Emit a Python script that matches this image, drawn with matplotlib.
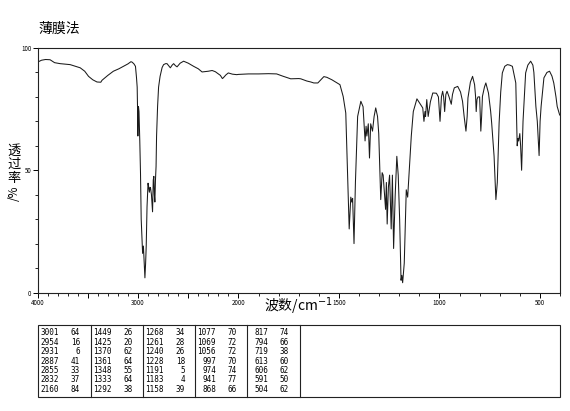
import numpy as np
import matplotlib
matplotlib.use('Agg')
import matplotlib.pyplot as plt
from matplotlib.patches import Rectangle
from matplotlib.ticker import FixedLocator, FuncFormatter

plt.rcParams['font.family'] = ['Noto Sans CJK SC', 'DejaVu Sans']

# spectrum (cm-1, %T)
wavenumber = [
    4000, 3960, 3920, 3875, 3830, 3775, 3720, 3675, 3620, 3575, 3530, 3492,
    3450, 3408, 3370, 3358, 3300, 3245, 3190, 3145, 3100, 3070, 3058, 3040,
    3025, 3015, 3008, 3003, 3001, 2999, 2995, 2990, 2982, 2975, 2968, 2962,
    2954, 2946, 2940, 2931, 2924, 2918, 2910, 2900, 2895, 2887, 2880, 2875,
    2866, 2855, 2848, 2842, 2837, 2832, 2826, 2820, 2815, 2805, 2795, 2780,
    2760, 2745, 2725, 2711, 2695, 2678, 2660, 2645, 2628, 2611, 2580, 2546,
    2500, 2446, 2400, 2362, 2300, 2262, 2230, 2213, 2180, 2160, 2151, 2125,
    2101, 2060, 2017,
    2000, 1950, 1900, 1850, 1810, 1780, 1740, 1700, 1690, 1660, 1640, 1625,
    1605, 1590, 1575, 1560, 1535, 1515, 1495, 1479, 1466, 1457, 1449, 1441,
    1436, 1432, 1425, 1418, 1407, 1391, 1380, 1370, 1365, 1361, 1354, 1348,
    1342, 1333, 1325, 1317, 1308, 1302, 1292, 1285, 1280, 1275, 1268, 1264,
    1260, 1254, 1248, 1240, 1234, 1228, 1220, 1212, 1205, 1198, 1191, 1187,
    1183, 1175, 1165, 1158, 1150, 1140, 1130, 1112, 1095, 1083, 1077, 1072,
    1069, 1063, 1056, 1045, 1033, 1015, 1005, 997, 990, 984, 979, 974,
    968, 962, 952, 941, 935, 926, 909, 895, 885, 877, 868, 862,
    858, 846, 835, 825, 820, 817, 813, 808, 800, 794, 790, 786,
    776, 769, 756, 745, 740, 728, 719, 712, 703, 695, 687, 675,
    662, 650, 637, 628, 620, 613, 609, 606, 600, 596, 591, 584,
    571, 560, 546, 535, 530, 520, 513, 504, 499, 494, 480, 465,
    452, 440, 431, 420, 414, 402, 400,
]
transmittance = [
    94.2, 95.0, 95.3, 95.2, 94.0, 93.6, 93.4, 93.2, 92.5, 91.9, 90.5, 88.4,
    87.0, 86.1, 86.0, 86.8, 88.8, 90.5, 91.5, 92.5, 93.5, 94.4, 94.2, 93.5,
    92.5, 88.0, 84.0, 72.0, 64.0, 70.0, 76.0, 74.0, 62.0, 49.0, 30.0, 24.0,
    16.0, 19.0, 14.0, 6.0, 12.0, 19.0, 35.0, 44.7, 43.5, 41.0, 43.0, 42.7,
    40.0, 33.0, 46.0, 47.5, 40.0, 37.0, 46.0, 51.6, 64.0, 76.0, 84.0, 88.4,
    92.0, 93.2, 93.6, 93.6, 92.8, 91.9, 93.0, 93.6, 92.8, 92.3, 93.8, 94.6,
    93.8, 92.5, 91.5, 90.2, 90.5, 90.8, 90.3, 89.8, 88.8, 87.5, 87.8, 89.0,
    89.8, 89.3, 89.1,
    89.2, 89.4, 89.4, 89.5, 89.4, 88.5, 87.4, 87.5, 87.4, 86.5, 86.1, 85.7,
    85.7, 87.0, 88.3, 88.0, 87.0, 86.0, 85.0, 80.2, 73.4, 49.0, 26.0, 39.0,
    37.0, 38.5, 20.0, 45.0, 72.0, 78.2, 76.0, 62.0, 68.0, 64.0, 69.0, 55.0,
    69.0, 66.0, 72.0, 75.5, 72.0, 65.0, 38.0, 49.0, 48.0, 42.0, 34.0, 45.0,
    28.0, 43.0, 48.0, 26.0, 48.0, 18.0, 40.0, 55.7, 48.0, 30.0, 5.0, 7.0,
    4.0, 12.0, 42.0, 39.0, 50.0, 64.0, 74.0, 79.2, 77.0, 75.5, 70.0, 74.0,
    72.0, 78.9, 72.0, 78.0, 81.6, 81.5, 80.0, 70.0, 80.0, 82.3, 80.0, 74.0,
    81.0, 82.3, 80.0, 77.0, 81.0, 83.7, 84.3, 82.0, 78.2, 72.0, 66.0, 72.0,
    79.6, 86.0, 88.4, 85.0, 80.0, 74.0, 79.0, 80.0, 80.0, 66.0, 72.0, 80.2,
    84.0, 85.7, 81.6, 74.0, 69.3, 55.7, 38.0, 45.0, 69.3, 82.0, 89.8, 92.5,
    93.2, 93.0, 92.5, 89.0, 85.7, 60.0, 63.0, 62.0, 65.0, 60.0, 50.0, 70.0,
    89.8, 93.0, 94.6, 93.0, 90.0, 76.1, 70.0, 56.0, 70.0, 76.1, 87.8, 90.0,
    90.5, 88.5, 85.7, 80.0, 76.1, 72.7, 72.5,
]

# peak table (wavenumber, %T), five columns
peak_wn = [
    [3001, 2954, 2931, 2887, 2855, 2832, 2160],
    [1449, 1425, 1370, 1361, 1348, 1333, 1292],
    [1268, 1261, 1240, 1228, 1191, 1183, 1158],
    [1077, 1069, 1056, 997, 974, 941, 868],
    [817, 794, 719, 613, 606, 591, 504],
]
peak_t = [
    [64, 16, 6, 41, 33, 37, 84],
    [26, 20, 62, 64, 55, 64, 38],
    [34, 28, 26, 18, 5, 4, 39],
    [70, 72, 72, 70, 74, 77, 66],
    [74, 66, 38, 60, 62, 50, 62],
]

x_labels = [4000, 3000, 2000, 1500, 1000, 500]


# wavenumber axis: 2000 cm-1 and below is drawn at twice the scale
def fwd(x):
    x = np.asarray(x, dtype=float)
    return np.where(x >= 2000, x, 2 * x - 2000)


def inv(u):
    u = np.asarray(u, dtype=float)
    return np.where(u >= 2000, u, (u + 2000) / 2)


W, H = 570, 411
fig = plt.figure(figsize=(W / 100, H / 100), dpi=100)

ax = fig.add_axes([37.5 / W, 1 - 292.5 / H, 522.5 / W, 244.5 / H])
ax.set_xscale('function', functions=(fwd, inv))
ax.plot(wavenumber, transmittance, color='#1a1a1a', lw=0.75)
ax.set_xlim(4000, 400)
ax.set_ylim(0, 100)

ax.xaxis.set_major_locator(FixedLocator(list(range(4000, 399, -500))))
ax.xaxis.set_minor_locator(FixedLocator(list(range(4000, 399, -100))))
ax.xaxis.set_major_formatter(FuncFormatter(
    lambda v, p: str(int(round(v))) if int(round(v)) in x_labels else ''))
ax.yaxis.set_major_locator(FixedLocator([0, 50, 100]))
ax.yaxis.set_minor_locator(FixedLocator(list(range(0, 101, 10))))

ax.tick_params(which='major', direction='out', length=3.5, width=0.7,
               labelsize=4.5, pad=1)
ax.tick_params(which='minor', direction='out', length=2, width=0.6)
for s in ax.spines.values():
    s.set_linewidth(0.8)
    s.set_color('#222222')

fig.text(38 / W, 1 - 29 / H, '薄膜法', fontsize=10, va='center', ha='left')
for ch, yp in zip('透过率', [151, 164, 178]):
    fig.text(14 / W, 1 - yp / H, ch, fontsize=9.5, va='center', ha='center')
fig.text(14 / W, 1 - 193 / H, '/%', fontsize=8.5, va='center', ha='center',
         rotation=90)
fig.text(298 / W, 1 - 306 / H, '波数/cm$^{-1}$', fontsize=10, va='center',
         ha='center')

# peak table below the spectrum
tab = fig.add_axes([0, 0, 1, 1], zorder=-1)
tab.set_xlim(0, W)
tab.set_ylim(H, 0)
tab.axis('off')
tab.add_patch(Rectangle((38, 325), 522, 72, fill=False, lw=0.8,
                        edgecolor='#222222'))
col_x = [38, 91, 143, 195, 247]
for xd in col_x[1:] + [300]:
    tab.plot([xd, xd], [325, 397], color='#222222', lw=0.8)
for c in range(5):
    for r in range(7):
        y = 332.7 + r * 9.45
        tab.text(col_x[c] + 21, y, str(peak_wn[c][r]), ha='right', va='center',
                 fontsize=5.5, family='DejaVu Sans Mono')
        tab.text(col_x[c] + 42, y, str(peak_t[c][r]), ha='right', va='center',
                 fontsize=5.5, family='DejaVu Sans Mono')

fig.savefig('out.png', dpi=100)
